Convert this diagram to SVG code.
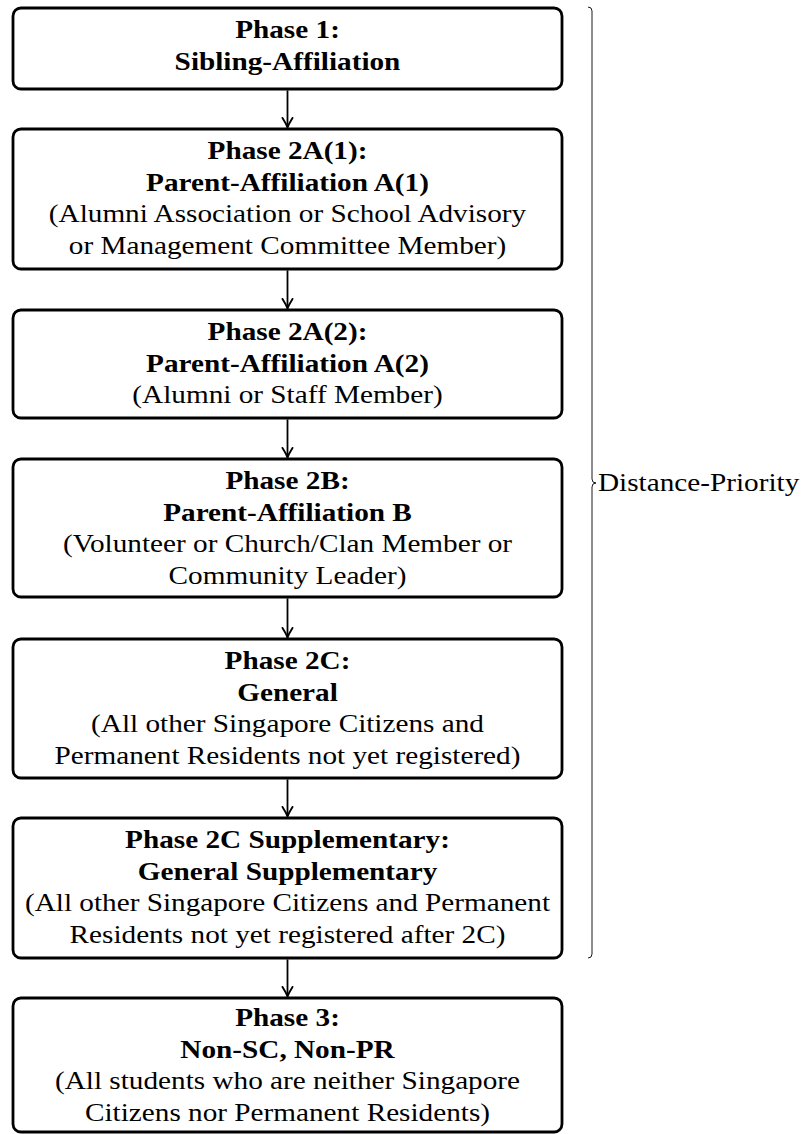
<svg xmlns="http://www.w3.org/2000/svg" width="804" height="1134" viewBox="0 0 804 1134">
<style>
.box{fill:#fff;stroke:#000;stroke-width:2.8}
text{font-family:"Liberation Serif","Times New Roman",serif;font-size:25px;fill:#000;text-anchor:middle}
.b{font-weight:bold}
.conn{stroke:#000;stroke-width:1.8;fill:none}
.brace{stroke:#000;stroke-width:0.9;fill:none}
</style>
<defs>
<marker id="arr" markerUnits="userSpaceOnUse" markerWidth="14" markerHeight="14" refX="12" refY="7" orient="auto" viewBox="0 0 14 14">
<path d="M2.5,2 Q8,5.5 12,7 Q8,8.5 2.5,12" fill="none" stroke="#000" stroke-width="1.9" stroke-linecap="round" stroke-linejoin="round"/>
</marker>
</defs>
<rect width="804" height="1134" fill="#fff"/>
<g id="connectors">
<path class="conn" d="M287.5,90.4 V127.4" marker-end="url(#arr)"/>
<path class="conn" d="M287.5,270.4 V308.4" marker-end="url(#arr)"/>
<path class="conn" d="M287.5,419.4 V457.4" marker-end="url(#arr)"/>
<path class="conn" d="M287.5,598.4 V637.4" marker-end="url(#arr)"/>
<path class="conn" d="M287.5,779.4 V816.4" marker-end="url(#arr)"/>
<path class="conn" d="M287.5,959.4 V996.4" marker-end="url(#arr)"/>
</g>
<g id="phase1">
<rect class="box" x="13" y="8" width="549" height="81" rx="8"/>
<g transform="translate(287.5 0) scale(1.17 1)">
<text class="b" x="0" y="38">Phase 1:</text>
<text class="b" x="0" y="70">Sibling-Affiliation</text>
</g>
</g>
<g id="phase2a1">
<rect class="box" x="13" y="129" width="549" height="140" rx="8"/>
<g transform="translate(287.5 0) scale(1.17 1)">
<text class="b" x="0" y="159">Phase 2A(1):</text>
<text class="b" x="0" y="191">Parent-Affiliation A(1)</text>
<text x="0" y="222">(Alumni Association or School Advisory</text>
<text x="0" y="254">or Management Committee Member)</text>
</g>
</g>
<g id="phase2a2">
<rect class="box" x="13" y="310" width="549" height="108" rx="8"/>
<g transform="translate(287.5 0) scale(1.17 1)">
<text class="b" x="0" y="340">Phase 2A(2):</text>
<text class="b" x="0" y="372">Parent-Affiliation A(2)</text>
<text x="0" y="403">(Alumni or Staff Member)</text>
</g>
</g>
<g id="phase2b">
<rect class="box" x="13" y="459" width="549" height="138" rx="8"/>
<g transform="translate(287.5 0) scale(1.17 1)">
<text class="b" x="0" y="489">Phase 2B:</text>
<text class="b" x="0" y="521">Parent-Affiliation B</text>
<text x="0" y="552">(Volunteer or Church/Clan Member or</text>
<text x="0" y="584">Community Leader)</text>
</g>
</g>
<g id="phase2c">
<rect class="box" x="13" y="639" width="549" height="139" rx="8"/>
<g transform="translate(287.5 0) scale(1.17 1)">
<text class="b" x="0" y="669">Phase 2C:</text>
<text class="b" x="0" y="701">General</text>
<text x="0" y="732">(All other Singapore Citizens and</text>
<text x="0" y="764">Permanent Residents not yet registered)</text>
</g>
</g>
<g id="phase2cs">
<rect class="box" x="13" y="818" width="549" height="140" rx="8"/>
<g transform="translate(287.5 0) scale(1.17 1)">
<text class="b" x="0" y="848">Phase 2C Supplementary:</text>
<text class="b" x="0" y="880">General Supplementary</text>
<text x="0" y="911">(All other Singapore Citizens and Permanent</text>
<text x="0" y="943">Residents not yet registered after 2C)</text>
</g>
</g>
<g id="phase3">
<rect class="box" x="13" y="998" width="549" height="134" rx="8"/>
<g transform="translate(287.5 0) scale(1.17 1)">
<text class="b" x="0" y="1026">Phase 3:</text>
<text class="b" x="0" y="1058">Non-SC, Non-PR</text>
<text x="0" y="1089">(All students who are neither Singapore</text>
<text x="0" y="1121">Citizens nor Permanent Residents)</text>
</g>
</g>
<g id="distance-priority">
<path class="brace" d="M588,7 Q592,7 592,11 L592,479 Q592,483 596,483 Q592,483 592,487 L592,954 Q592,958 588,958"/>
<g transform="translate(598 0) scale(1.17 1)">
<text x="0" y="491" style="text-anchor:start">Distance-Priority</text>
</g>
</g>
</svg>
